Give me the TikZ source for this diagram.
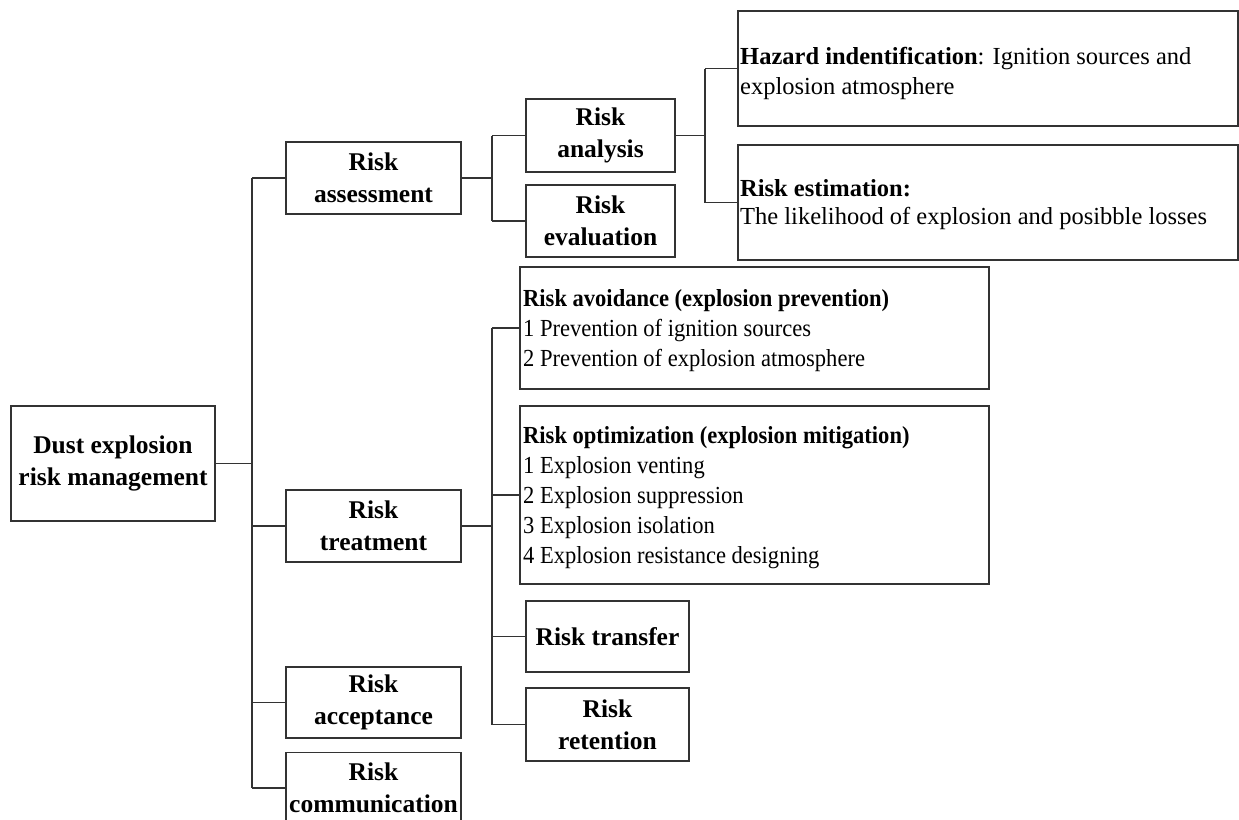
\documentclass[tikz,border=0pt]{standalone}
\usepackage{fontspec}
\setmainfont{Liberation Serif}
\newfontfamily\condfont{Liberation Serif}[FakeStretch=0.92]
\begin{document}
\begin{tikzpicture}[x=1pt,y=-1pt,
  box/.style={draw=black!80, line width=1.8pt, rectangle, inner sep=0pt, align=center,
    font=\fontsize{25.5}{32}\selectfont\bfseries},
  frame/.style={draw=black!80, line width=1.8pt, rectangle, inner sep=0pt},
  txt/.style={anchor=west, inner sep=0pt, align=left},
  conn/.style={draw=black!80, line width=1.8pt}]
\useasboundingbox (0,0) rectangle (1239,819);

% level 0
\node[box, minimum width=204pt, minimum height=115pt] (dust) at (113,463.5) {Dust explosion\\risk management};

% level 1
\node[box, minimum width=175pt, minimum height=72pt] (assess) at (373.5,178) {Risk\\assessment};
\node[box, minimum width=175pt, minimum height=72pt] (treat) at (373.5,526) {Risk\\treatment};
\node[box, minimum width=175pt, minimum height=71pt] (accept) at (373.5,702.5) {Risk\\acceptance};
\node[box, minimum width=175pt, minimum height=71pt] (comm) at (373.5,788) {Risk\\communication};

% level 2 (assessment)
\node[box, minimum width=149pt, minimum height=73pt] (anal) at (600.5,135.5) {Risk\\analysis};
\node[box, minimum width=149pt, minimum height=72pt] (eval) at (600.5,221) {Risk\\evaluation};

% level 3 (analysis)
\node[frame, minimum width=500pt, minimum height=115pt] (haz) at (988,68.5) {};
\node[txt, font=\fontsize{24.5}{30}\selectfont] (hazt) at (740,73) {\textbf{Hazard indentification}: Ignition sources and\\explosion atmosphere};
\node[frame, minimum width=500pt, minimum height=115pt] (est) at (988,202.5) {};
\node[txt, font=\fontsize{24.5}{28}\selectfont] (estt) at (740,205) {\textbf{Risk estimation:}\\The likelihood of explosion and posibble losses};

% level 2 (treatment)
\node[frame, minimum width=469pt, minimum height=122pt] (avoid) at (754.5,328) {};
\node[txt, font=\condfont\fontsize{24.5}{30}\selectfont] (avoidt) at (523,331) {\textbf{Risk avoidance (explosion prevention)}\\1 Prevention of ignition sources\\2 Prevention of explosion atmosphere};
\node[frame, minimum width=469pt, minimum height=178pt] (optim) at (754.5,495) {};
\node[txt, font=\condfont\fontsize{24.5}{30}\selectfont] (optimt) at (523,498) {\textbf{Risk optimization (explosion mitigation)}\\1 Explosion venting\\2 Explosion suppression\\3 Explosion isolation\\4 Explosion resistance designing};
\node[box, minimum width=163pt, minimum height=71pt] (trans) at (607.5,636.5) {Risk transfer};
\node[box, minimum width=163pt, minimum height=73pt] (ret) at (607.5,724.5) {Risk\\retention};

% trunks
\coordinate (t1) at (252,0);
\coordinate (t2) at (492,0);
\coordinate (t3) at (705,0);

% connectors: dust -> level 1
\draw[conn] (dust.east) -- (dust.east -| t1);
\draw[conn] (t1 |- assess.west) -- (t1 |- comm.west);
\draw[conn] (t1 |- assess.west) -- (assess.west);
\draw[conn] (t1 |- treat.west) -- (treat.west);
\draw[conn] (t1 |- accept.west) -- (accept.west);
\draw[conn] (t1 |- comm.west) -- (comm.west);

% assessment -> analysis / evaluation
\draw[conn] (assess.east) -- (assess.east -| t2);
\draw[conn] (t2 |- anal.west) -- (t2 |- eval.west);
\draw[conn] (t2 |- anal.west) -- (anal.west);
\draw[conn] (t2 |- eval.west) -- (eval.west);

% analysis -> hazard / estimation
\draw[conn] (anal.east) -- (anal.east -| t3);
\draw[conn] (t3 |- haz.west) -- (t3 |- est.west);
\draw[conn] (t3 |- haz.west) -- (haz.west);
\draw[conn] (t3 |- est.west) -- (est.west);

% treatment -> options
\draw[conn] (treat.east) -- (treat.east -| t2);
\draw[conn] (t2 |- avoid.west) -- (t2 |- ret.west);
\draw[conn] (t2 |- avoid.west) -- (avoid.west);
\draw[conn] (t2 |- optim.west) -- (optim.west);
\draw[conn] (t2 |- trans.west) -- (trans.west);
\draw[conn] (t2 |- ret.west) -- (ret.west);
\end{tikzpicture}
\end{document}
